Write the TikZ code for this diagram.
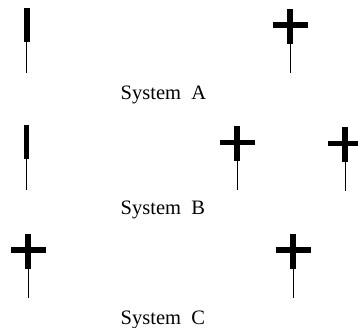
\documentclass[tikz,border=0pt]{standalone}
\usepackage{fontspec}
\setmainfont{Liberation Serif}
\usepackage{tikz}
\usetikzlibrary{positioning}

\tikzset{
    heavy/.style={line width=5.8pt},
    stemline/.style={line width=0.9pt},
    syslabel/.style={anchor=base west, inner sep=0pt, font=\fontsize{20.5}{24}\selectfont},
    pics/single/.style={code={
        \draw[heavy] (0,0) -- (0,34.5);
        \draw[stemline] (0,34.5) -- (0,65);
    }},
    pics/cross/.style={code={
        \draw[heavy] (0,0) -- (0,34.5);
        \draw[heavy] (-17.5,16) -- (17.5,16);
        \draw[stemline] (0,34.5) -- (0,64);
    }},
}

\begin{document}
\begin{tikzpicture}[x=1pt, y=-1pt]
    \useasboundingbox (0,0) rectangle (358,328);

    \pic (a1) at (26.7,8) {single};
    \pic (a2) at (290,9.3) {cross};
    \node[syslabel] (sysA) at (120.5,99.5) {System\ \ A};

    \pic (b1) at (26.5,125) {single};
    \pic (b2) at (237,126.5) {cross};
    \pic (b3) at (345.3,127.5) {cross};
    \node[syslabel] (sysB) at (120.5,215) {System\ \ B};

    \pic (c1) at (28.3,234) {cross};
    \pic (c2) at (293,234) {cross};
    \node[syslabel] (sysC) at (120.5,324.5) {System\ \ C};
\end{tikzpicture}
\end{document}
